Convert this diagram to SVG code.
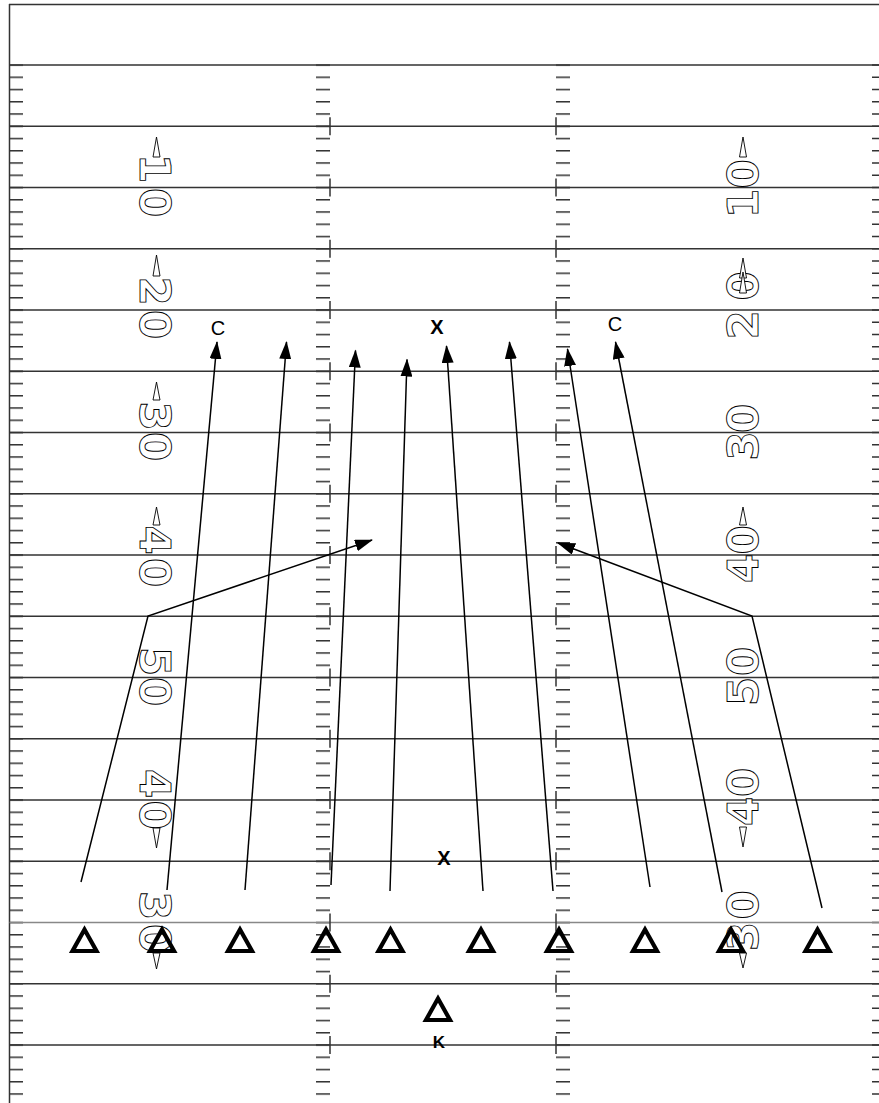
<svg xmlns="http://www.w3.org/2000/svg" width="879" height="1103" viewBox="0 0 879 1103">
<style>
.yl{stroke:#333;stroke-width:1.5;fill:none}
.tk{stroke:#333;fill:none}
.num{font-family:"DejaVu Sans",sans-serif;font-size:42px;font-weight:bold;fill:#fff;stroke:#000;stroke-width:0.9;text-anchor:middle}
.ar{fill:#fff;stroke:#000;stroke-width:0.9}
.rt{stroke:#000;stroke-width:1.5;fill:none;marker-end:url(#ah)}
.pl{fill:none;stroke:#000;stroke-width:4.2;stroke-linejoin:miter}
.lb{font-family:"Liberation Sans",Arial,sans-serif;fill:#000;text-anchor:middle}
</style>
<defs>
<marker id="ah" markerUnits="userSpaceOnUse" markerWidth="18" markerHeight="12" refX="17" refY="6" orient="auto">
<path d="M0,0 L18,6 L0,12 Z" fill="#000"/>
</marker>
<path id="tri" d="M0,-11 L-12,10.5 L12,10.5 Z"/>
<pattern id="hash" patternUnits="userSpaceOnUse" x="0" y="64.25" width="879" height="12.25">
<rect x="10" y="0" width="13" height="1.5" fill="#333"/>
<rect x="316" y="0" width="14" height="1.5" fill="#333"/>
<rect x="556" y="0" width="14" height="1.5" fill="#333"/>
</pattern>
</defs>
<rect width="879" height="1103" fill="#fff"/>
<g id="field">
<rect x="0" y="64.25" width="879" height="1038.75" fill="url(#hash)"/>
<line class="tk" x1="879" y1="64.25" x2="879" y2="1103" stroke-width="14" stroke-dasharray="1.5 10.75"/>
<path class="yl" d="M9.5,4 V1103 M9,4.5 H879"/>
<path class="yl" d="M9.5,65H879M9.5,126.25H879M9.5,187.5H879M9.5,248.75H879M9.5,310H879M9.5,371.25H879M9.5,432.5H879M9.5,493.75H879M9.5,555H879M9.5,616.25H879M9.5,677.5H879M9.5,738.75H879M9.5,800H879M9.5,861.25H879M9.5,983.75H879M9.5,1045H879"/>
<path d="M9.5,922.5H879" stroke="#888" stroke-width="1.5"/>
<path class="tk" stroke-width="1.5" d="M330,117.25v18M330,178.5v18M330,239.75v18M330,301v18M330,362.25v18M330,423.5v18M330,484.75v18M330,546v18M330,607.25v18M330,668.5v18M330,729.75v18M330,791v18M330,852.25v18M330,913.5v18M330,974.75v18M330,1036v18M556,117.25v18M556,178.5v18M556,239.75v18M556,301v18M556,362.25v18M556,423.5v18M556,484.75v18M556,546v18M556,607.25v18M556,668.5v18M556,729.75v18M556,791v18M556,852.25v18M556,913.5v18M556,974.75v18M556,1036v18"/>
</g>
<g id="numbers">
<text class="num" transform="translate(155,168.5) rotate(90)" y="15">1</text>
<text class="num" transform="translate(155,202.5) rotate(90)" y="15">0</text>
<text class="num" transform="translate(155,291) rotate(90)" y="15">2</text>
<text class="num" transform="translate(155,324.5) rotate(90)" y="15">0</text>
<text class="num" transform="translate(155,416) rotate(90)" y="15">3</text>
<text class="num" transform="translate(155,446.5) rotate(90)" y="15">0</text>
<text class="num" transform="translate(155,540) rotate(90)" y="15">4</text>
<text class="num" transform="translate(155,572.5) rotate(90)" y="15">0</text>
<text class="num" transform="translate(155,661.5) rotate(90)" y="15">5</text>
<text class="num" transform="translate(155,691.5) rotate(90)" y="15">0</text>
<text class="num" transform="translate(155,783.5) rotate(90)" y="15">4</text>
<text class="num" transform="translate(155,815) rotate(90)" y="15">0</text>
<text class="num" transform="translate(155,905.5) rotate(90)" y="15">3</text>
<text class="num" transform="translate(155,938.5) rotate(90)" y="15">0</text>
<text class="num" transform="translate(743,174) rotate(-90)" y="15">0</text>
<text class="num" transform="translate(743,203.5) rotate(-90)" y="15">1</text>
<text class="num" transform="translate(743,286) rotate(-90)" y="15">0</text>
<text class="num" transform="translate(743,325) rotate(-90)" y="15">2</text>
<text class="num" transform="translate(743,418.5) rotate(-90)" y="15">0</text>
<text class="num" transform="translate(743,446) rotate(-90)" y="15">3</text>
<text class="num" transform="translate(743,540) rotate(-90)" y="15">0</text>
<text class="num" transform="translate(743,568.5) rotate(-90)" y="15">4</text>
<text class="num" transform="translate(743,661.5) rotate(-90)" y="15">0</text>
<text class="num" transform="translate(743,691.5) rotate(-90)" y="15">5</text>
<text class="num" transform="translate(743,782.5) rotate(-90)" y="15">0</text>
<text class="num" transform="translate(743,811.5) rotate(-90)" y="15">4</text>
<text class="num" transform="translate(743,905) rotate(-90)" y="15">0</text>
<text class="num" transform="translate(743,936.5) rotate(-90)" y="15">3</text>
<polygon class="ar" points="156.5,137 153,157 160,157"/>
<polygon class="ar" points="156.5,255 153,276 160,276"/>
<polygon class="ar" points="156.5,382 153,400 160,400"/>
<polygon class="ar" points="156.5,507 153,525 160,525"/>
<polygon class="ar" points="156.5,848 153,828 160,828"/>
<polygon class="ar" points="156.5,969 153,953 160,953"/>
<polygon class="ar" points="743,137 739.5,157 746.5,157"/>
<polygon class="ar" points="743,258 739.5,278 746.5,278"/>
<polygon class="ar" points="743,272 739.5,293 746.5,293"/>
<polygon class="ar" points="743,507 739.5,525 746.5,525"/>
<polygon class="ar" points="743,847 739.5,827 746.5,827"/>
<polygon class="ar" points="743,968 739.5,953 746.5,953"/>
</g>
<g id="connectors">
<polyline class="rt" points="81,882 148,616 372,540"/>
<line class="rt" x1="167" y1="890" x2="217" y2="342"/>
<line class="rt" x1="245" y1="890" x2="286.5" y2="342"/>
<line class="rt" x1="331" y1="885" x2="355.5" y2="350.5"/>
<line class="rt" x1="390" y1="891" x2="407" y2="359.5"/>
<line class="rt" x1="483" y1="891" x2="446.5" y2="346"/>
<line class="rt" x1="553" y1="891" x2="509.5" y2="342"/>
<line class="rt" x1="650" y1="887" x2="567.5" y2="349"/>
<line class="rt" x1="722" y1="892" x2="615.5" y2="342"/>
<polyline class="rt" points="822,908 752,616 558,543"/>
</g>
<g id="player-1"><use href="#tri" class="pl" transform="translate(84.5,940.5)"/></g>
<g id="player-2"><use href="#tri" class="pl" transform="translate(162,940.5)"/></g>
<g id="player-3"><use href="#tri" class="pl" transform="translate(240,940.5)"/></g>
<g id="player-4"><use href="#tri" class="pl" transform="translate(326,940.5)"/></g>
<g id="player-5"><use href="#tri" class="pl" transform="translate(390.5,940.5)"/></g>
<g id="player-6"><use href="#tri" class="pl" transform="translate(481,940.5)"/></g>
<g id="player-7"><use href="#tri" class="pl" transform="translate(559,940.5)"/></g>
<g id="player-8"><use href="#tri" class="pl" transform="translate(645,940.5)"/></g>
<g id="player-9"><use href="#tri" class="pl" transform="translate(731,940.5)"/></g>
<g id="player-10"><use href="#tri" class="pl" transform="translate(817.5,940.5)"/></g>
<g id="kicker"><use href="#tri" class="pl" transform="translate(438,1009.5)"/>
<text class="lb" x="439" y="1048" font-size="17" font-weight="bold">K</text></g>
<g id="label-c-left"><text class="lb" x="218" y="335" font-size="20">C</text></g>
<g id="label-x-top"><text class="lb" x="437" y="334" font-size="20" font-weight="bold">X</text></g>
<g id="label-c-right"><text class="lb" x="615" y="331" font-size="20">C</text></g>
<g id="label-x-bottom"><text class="lb" x="444" y="865" font-size="20" font-weight="bold">X</text></g>
</svg>
